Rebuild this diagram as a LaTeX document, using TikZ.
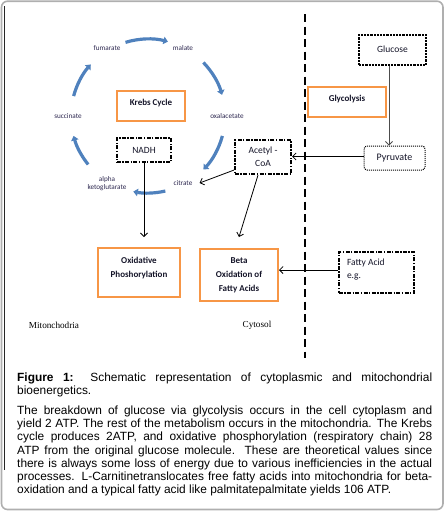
\documentclass[tikz,border=0pt]{standalone}
\usepackage{fontspec}
\setmainfont{Liberation Sans}
\newfontfamily\calfont{Carlito}
\newfontfamily\tnrfont{Liberation Serif}
\usetikzlibrary{arrows.meta}
\definecolor{korange}{RGB}{247,150,70}
\definecolor{kblue}{RGB}{79,129,189}
\definecolor{klabel}{RGB}{45,40,80}
\definecolor{kframe}{RGB}{175,175,175}
\definecolor{ktext}{RGB}{20,20,40}
\newcommand\topbox[4]{\parbox[c][#2][t]{#1}{\centering\rule{0pt}{#3}#4}}
\begin{document}
\begin{tikzpicture}[x=1pt,y=-1pt,
  obox/.style={draw=korange, line width=2pt, inner sep=0pt, text=ktext,
    font=\calfont\bfseries\fontsize{9}{14.2}\selectfont},
  ddbox/.style={draw=black, line width=2.2pt, dash pattern=on 4pt off 1.4pt on 1.4pt off 1.4pt,
    inner sep=0pt, text=ktext, font=\calfont\fontsize{9.5}{13}\selectfont, align=center},
  sqbox/.style={draw=black, line width=2.4pt, dash pattern=on 2.2pt off 1pt,
    inner sep=0pt, text=ktext, font=\calfont\fontsize{9.5}{13}\selectfont},
  dotbox/.style={draw=black, line width=1pt, dash pattern=on 1pt off 1pt, rounded corners=3pt,
    inner sep=0pt, text=ktext, font=\calfont\fontsize{10}{13}\selectfont},
  cyc/.style={draw=kblue, line width=3.2pt, -{Triangle[length=4.5pt,width=7.5pt]}},
  lab/.style={text=klabel, font=\calfont\fontsize{7.2}{8}\selectfont, inner sep=2pt, align=center},
  arr/.style={draw=black, line width=0.8pt, -{Straight Barb[length=3.5pt,width=7pt]}},
  garr/.style={draw=black!70, line width=0.8pt, -{Straight Barb[length=3.5pt,width=7pt]}},
  reg/.style={font=\tnrfont\fontsize{9.2}{11}\selectfont, inner sep=0pt}
]
\useasboundingbox (0,0) rectangle (446,512);
% frame
\draw[kframe, line width=1.6pt, rounded corners=6pt] (1.5,1.2) rectangle (443,509.5);
\draw[black!85, line width=1.3pt] (4.2,6) -- (4.2,470);
% divider
\draw[black, line width=2pt, dash pattern=on 8pt off 4.5pt] (305,14) -- (305,358);
% Krebs cycle
\coordinate (kc) at (148,116);
\draw[cyc] ([shift={(-107:77)}]kc) arc[start angle=-107, end angle=-75, radius=77];
\draw[cyc] ([shift={(-44:77)}]kc) arc[start angle=-44, end angle=-16, radius=77];
\draw[cyc] ([shift={(15:77)}]kc) arc[start angle=15, end angle=44, radius=77];
\draw[cyc] ([shift={(77:77)}]kc) arc[start angle=77, end angle=101, radius=77];
\draw[cyc] ([shift={(141:77)}]kc) arc[start angle=141, end angle=165, radius=77];
\draw[cyc] ([shift={(-165:77)}]kc) arc[start angle=-165, end angle=-138, radius=77];
\node[lab] (fum) at (107,48) {fumarate};
\node[lab] (mal) at (183,48) {malate};
\node[lab] (oxa) at (227,116) {oxalacetate};
\node[lab] (cit) at (183,183) {citrate};
\node[lab] (akg) at (107,184) {alpha\\ketoglutarate};
\node[lab] (suc) at (68,116) {succinate};
% boxes
\node[obox] (krebs) at (151,106) {\topbox{68pt}{30pt}{14pt}{Krebs Cycle}};
\node[ddbox, minimum width=54pt, minimum height=24pt] (nadh) at (144,150) {NADH};
\node[obox] (oxi) at (139,272.5) {\topbox{82pt}{49pt}{15pt}{Oxidative\\Phoshorylation}};
\node[obox] (beta) at (239,275) {\topbox{78pt}{52pt}{14.5pt}{Beta\\Oxidation of\\Fatty Acids}};
\node[ddbox, minimum width=56pt, minimum height=34pt] (acetyl) at (263,157) {Acetyl -\\CoA};
\node[sqbox, minimum width=67pt, minimum height=30pt] (glucose) at (392.5,50) {\raisebox{2pt}{Glucose}};
\node[obox] (glyco) at (347,102) {\topbox{78pt}{30pt}{14pt}{Glycolysis}};
\node[dotbox, minimum width=61pt, minimum height=24pt] (pyruvate) at (394.5,158) {Pyruvate};
\node[ddbox, align=left] (fatty) at (376.5,272.5) {\parbox[c][41pt][t]{75pt}{\raggedright\hspace*{8pt}\rule{0pt}{13pt}Fatty Acid\\\hspace*{8pt}e.g.}};
% labels
\node[reg] (mito) at (54,325) {Mitonchodria};
\node[reg] (cyto) at (257,325) {Cytosol};
% connectors
\coordinate (oxitop) at ([yshift=10pt]oxi.north);
\draw[arr] (nadh.south) -- (nadh.south |- oxitop);
\coordinate (glucbot) at ([xshift=-3.5pt]glucose.south);
\draw[garr] (glucbot) -- (glucbot |- pyruvate.north);
\coordinate (pyrw) at ([yshift=1.5pt]pyruvate.west);
\draw[arr] (pyrw) -- (pyrw -| acetyl.east);
\coordinate (fatw) at ([yshift=2.5pt]fatty.west);
\draw[arr] (fatw) -- (fatw -| beta.east);
\draw[arr] ([yshift=5pt]acetyl.south west) -- ([xshift=5pt]cit.east);
\draw[arr] ([xshift=-5pt]acetyl.south) -- ([yshift=11pt]beta.north);
% caption
\node[anchor=north west, inner sep=0pt, text=black] (caption) at (17,372) {\parbox[t]{415pt}{\fontsize{11.9}{13.2}\selectfont\setlength{\parindent}{0pt}%
\rule{0pt}{9pt}\makebox[415pt][s]{\textbf{Figure 1:} Schematic representation of cytoplasmic and mitochondrial}\\
bioenergetics.\\[6.8pt]
\makebox[415pt][s]{The breakdown of glucose via glycolysis occurs in the cell cytoplasm and}\\
\makebox[415pt][s]{yield 2 ATP. The rest of the metabolism occurs in the mitochondria. The Krebs}\\
\makebox[415pt][s]{cycle produces 2ATP, and oxidative phosphorylation (respiratory chain) 28}\\
\makebox[415pt][s]{ATP from the original glucose molecule. These are theoretical values since}\\
\makebox[415pt][s]{there is always some loss of energy due to various inefficiencies in the actual}\\
\makebox[415pt][s]{processes. L-Carnitinetranslocates free fatty acids into mitochondria for beta-}\\
oxidation and a typical fatty acid like palmitatepalmitate yields 106 ATP.}};
\end{tikzpicture}
\end{document}
